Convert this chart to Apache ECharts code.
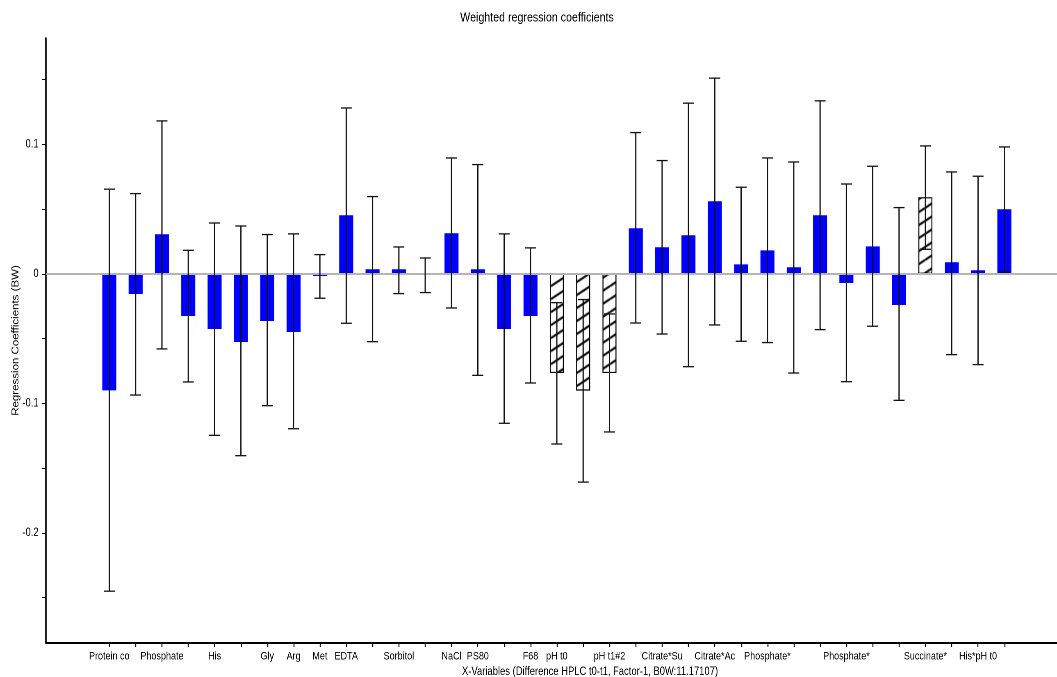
<!DOCTYPE html>
<html>
<head>
<meta charset="utf-8">
<script src="https://cdn.jsdelivr.net/npm/echarts@6/dist/echarts.min.js"></script>
<style>
  html, body { margin: 0; padding: 0; background: #fff; overflow: hidden; width: 1057px; height: 677px; }
  /* the chart is laid out wide and squeezed horizontally, giving the condensed lettering */
  #chart { height: 677px; transform-origin: 0 0; }
</style>
</head>
<body>
<div id="chart"></div>
<script>
// X-variables in model order; blank entries are terms whose label is not printed
const categories = [
  'Protein co', '', 'Phosphate', '', 'His', '', 'Gly', 'Arg', 'Met', 'EDTA',
  '', 'Sorbitol', '', 'NaCl', 'PS80', '', 'F68', 'pH t0', '', 'pH t1#2',
  '', 'Citrate*Su', '', 'Citrate*Ac', '', 'Phosphate*', '', '', 'Phosphate*', '',
  '', 'Succinate*', '', 'His*pH t0', ''
];

// Weighted regression coefficients
const coefficients = [
  -0.0900, -0.0156, 0.0305, -0.0326, -0.0426, -0.0527, -0.0364, -0.0449, -0.0017, 0.0452,
  0.0035, 0.0035, -0.0008, 0.0313, 0.0035, -0.0426, -0.0326, -0.0766, -0.0902, -0.0766,
  0.0351, 0.0205, 0.0297, 0.0560, 0.0073, 0.0181, 0.0050, 0.0452, -0.0071, 0.0212,
  -0.0241, 0.0591, 0.0089, 0.0027, 0.0498
];

// Confidence interval limits
const ciLow = [
  -0.2450, -0.0936, -0.0580, -0.0835, -0.1247, -0.1404, -0.1018, -0.1196, -0.0189, -0.0382,
  -0.0524, -0.0153, -0.0145, -0.0264, -0.0784, -0.1154, -0.0843, -0.1314, -0.1608, -0.1221,
  -0.0380, -0.0465, -0.0717, -0.0395, -0.0521, -0.0531, -0.0766, -0.0431, -0.0833, -0.0405,
  -0.0977, 0.0189, -0.0624, -0.0701, 0.0014
];
const ciHigh = [
  0.0653, 0.0619, 0.1180, 0.0181, 0.0392, 0.0369, 0.0303, 0.0308, 0.0148, 0.1280,
  0.0596, 0.0207, 0.0122, 0.0894, 0.0843, 0.0308, 0.0200, -0.0223, -0.0199, -0.0310,
  0.1090, 0.0874, 0.1317, 0.1510, 0.0668, 0.0894, 0.0863, 0.1335, 0.0693, 0.0830,
  0.0511, 0.0987, 0.0786, 0.0753, 0.0979
];

// Terms drawn with a hatched bar
const hatchedTerms = [17, 18, 19, 31];

// Y axis ticks and labelled values
const yTickValues = [-0.25, -0.2, -0.15, -0.1, -0.05, 0, 0.05, 0.1, 0.15];
const yLabelValues = [-0.2, -0.1, 0, 0.1];

// horizontal squeeze of the whole drawing
const SQ = 0.82;
const VIEW_W = 1057, VIEW_H = 677;
const WIDE_W = Math.round(VIEW_W / SQ);
const el = document.getElementById('chart');
el.style.width = WIDE_W + 'px';
el.style.transform = 'scaleX(' + (VIEW_W / WIDE_W) + ')';
const K = WIDE_W / VIEW_W; // converts visible px to wide-layout px

const FONT = '"Liberation Sans", Arial, sans-serif';

function hatchCanvas() {
  const W = Math.round(20 * K), H = 13;
  const c = document.createElement('canvas');
  c.width = W; c.height = H;
  const g = c.getContext('2d');
  g.fillStyle = '#ffffff';
  g.fillRect(0, 0, W, H);
  g.strokeStyle = '#000000';
  g.lineWidth = 2.2;
  for (let k = 0; k <= 2; k++) {
    g.beginPath();
    g.moveTo(0, H * k);
    g.lineTo(W, H * (k - 1));
    g.stroke();
  }
  return c;
}
const hatch = { image: hatchCanvas(), repeat: 'repeat' };

const barData = coefficients.map((v, i) => {
  const item = { value: [i, v] };
  if (hatchedTerms.includes(i)) {
    item.itemStyle = { color: hatch, borderColor: '#000', borderWidth: 1.2 };
  }
  return item;
});
const errData = coefficients.map((v, i) => [i, ciLow[i], ciHigh[i]]);
const tickIdx = categories.map((_, i) => i);
const labelIdx = tickIdx.filter(i => categories[i] !== '');

const chart = echarts.init(el, null, { renderer: 'canvas', devicePixelRatio: 2 });
chart.setOption({
  animation: false,
  backgroundColor: '#fff',
  grid: { left: 46 * K, right: 0, top: 38, bottom: 34, containLabel: false, outerBoundsMode: 'none' },
  graphic: [
    {
      type: 'text', x: 537 * K, y: 18, silent: true,
      style: { text: 'Weighted regression coefficients', font: '13px ' + FONT, fill: '#000',
               align: 'center', verticalAlign: 'middle', textAlign: 'center', textVerticalAlign: 'middle' }
    },
    {
      type: 'text', x: 590 * K, y: 672, silent: true,
      style: { text: 'X-Variables (Difference HPLC t0-t1, Factor-1, B0W:11.17107)', font: '11.5px ' + FONT, fill: '#000',
               align: 'center', verticalAlign: 'middle', textAlign: 'center', textVerticalAlign: 'middle' }
    }
  ],
  xAxis: {
    type: 'value',
    min: -2.404,
    max: 36,
    axisLine: { show: true, onZero: false, lineStyle: { color: '#000', width: 2 } },
    axisTick: { show: true, length: 4, customValues: tickIdx, lineStyle: { color: '#000', width: 1.2 } },
    axisLabel: {
      customValues: labelIdx,
      formatter: v => categories[Math.round(v)],
      color: '#000', fontSize: 11, fontFamily: FONT, margin: 8
    },
    splitLine: { show: false }
  },
  yAxis: {
    type: 'value',
    min: -0.285,
    max: 0.182,
    name: 'Regression Coefficients (BW)',
    nameLocation: 'middle',
    nameRotate: 90,
    nameGap: 31,
    nameMoveOverlap: false,
    nameTextStyle: { color: '#000', fontSize: 11.5, fontFamily: FONT },
    axisLine: { show: true, onZero: false, lineStyle: { color: '#000', width: 1.8 } },
    axisTick: { show: true, length: 5, customValues: yTickValues, lineStyle: { color: '#000', width: 1 } },
    axisLabel: {
      customValues: yLabelValues,
      formatter: v => String(v),
      color: '#000', fontSize: 11.5, fontFamily: FONT, margin: 9
    },
    splitLine: { show: false }
  },
  series: [
    {
      type: 'bar',
      barWidth: 14 * K,
      itemStyle: { color: '#0000ff' },
      data: barData,
      z: 2,
      markLine: {
        silent: true,
        symbol: ['none', 'none'],
        label: { show: false },
        lineStyle: { color: '#b4b4b4', width: 2, type: 'solid' },
        data: [{ yAxis: 0 }]
      }
    },
    {
      type: 'custom',
      z: 5,
      data: errData,
      encode: { x: 0, y: [1, 2] },
      renderItem(params, api) {
        const i = api.value(0);
        const lo = api.coord([i, api.value(1)]);
        const hi = api.coord([i, api.value(2)]);
        const half = 5.5 * K;
        const stem = { stroke: '#111', lineWidth: 1.5, fill: null };
        const cap = { stroke: '#111', lineWidth: 1.3, fill: null };
        return {
          type: 'group',
          children: [
            { type: 'line', shape: { x1: lo[0], y1: lo[1], x2: hi[0], y2: hi[1] }, style: stem },
            { type: 'line', shape: { x1: lo[0] - half, y1: lo[1], x2: lo[0] + half, y2: lo[1] }, style: cap },
            { type: 'line', shape: { x1: hi[0] - half, y1: hi[1], x2: hi[0] + half, y2: hi[1] }, style: cap }
          ]
        };
      }
    }
  ]
});
</script>
</body>
</html>
